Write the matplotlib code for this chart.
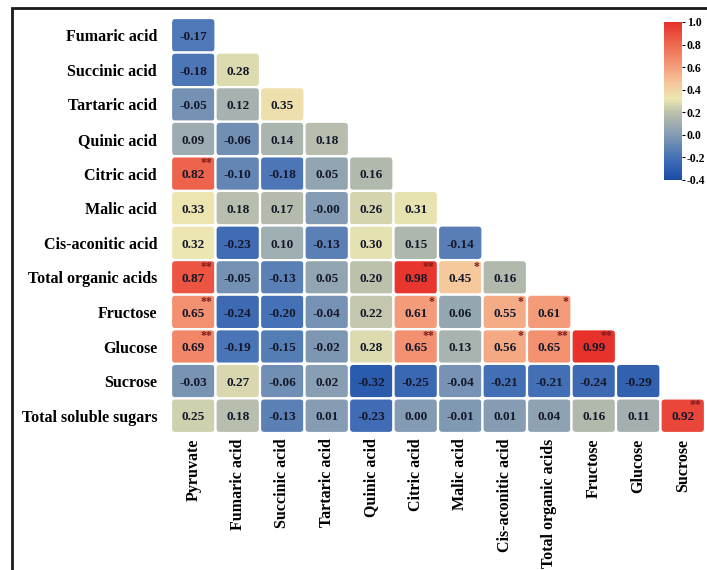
import numpy as np
import matplotlib.pyplot as plt
from matplotlib.colors import LinearSegmentedColormap, Normalize
from matplotlib.patches import FancyBboxPatch, Rectangle
from matplotlib.colorbar import ColorbarBase

plt.rcParams['font.family'] = ['Liberation Serif', 'DejaVu Serif']
plt.rcParams['font.weight'] = 'bold'

row_labels = ['Fumaric acid', 'Succinic acid', 'Tartaric acid', 'Quinic acid',
              'Citric acid', 'Malic acid', 'Cis-aconitic acid', 'Total organic acids',
              'Fructose', 'Glucose', 'Sucrose', 'Total soluble sugars']
col_labels = ['Pyruvate', 'Fumaric acid', 'Succinic acid', 'Tartaric acid',
              'Quinic acid', 'Citric acid', 'Malic acid', 'Cis-aconitic acid',
              'Total organic acids', 'Fructose', 'Glucose', 'Sucrose']

# lower triangle of the correlation matrix, one list per row
corr = [
    [-0.17],
    [-0.18, 0.28],
    [-0.05, 0.12, 0.35],
    [0.09, -0.06, 0.14, 0.18],
    [0.82, -0.10, -0.18, 0.05, 0.16],
    [0.33, 0.18, 0.17, -0.0, 0.26, 0.31],
    [0.32, -0.23, 0.10, -0.13, 0.30, 0.15, -0.14],
    [0.87, -0.05, -0.13, 0.05, 0.20, 0.98, 0.45, 0.16],
    [0.65, -0.24, -0.20, -0.04, 0.22, 0.61, 0.06, 0.55, 0.61],
    [0.69, -0.19, -0.15, -0.02, 0.28, 0.65, 0.13, 0.56, 0.65, 0.99],
    [-0.03, 0.27, -0.06, 0.02, -0.32, -0.25, -0.04, -0.21, -0.21, -0.24, -0.29],
    [0.25, 0.18, -0.13, 0.01, -0.23, 0.00, -0.01, 0.01, 0.04, 0.16, 0.11, 0.92],
]
signif = [
    [''],
    ['', ''],
    ['', '', ''],
    ['', '', '', ''],
    ['**', '', '', '', ''],
    ['', '', '', '', '', ''],
    ['', '', '', '', '', '', ''],
    ['**', '', '', '', '', '**', '*', ''],
    ['**', '', '', '', '', '*', '', '*', '*'],
    ['**', '', '', '', '', '**', '', '*', '**', '**'],
    ['', '', '', '', '', '', '', '', '', '', ''],
    ['', '', '', '', '', '', '', '', '', '', '', '**'],
]

vmin, vmax = -0.4, 1.0
stops = [(-0.4, '#1a4ca8'), (-0.2, '#4672b6'), (0.0, '#839bb3'),
         (0.2, '#bcc1ac'), (0.32, '#ece7b2'), (0.45, '#f5c99c'),
         (0.6, '#f49e7c'), (0.8, '#ee6a50'), (1.0, '#e7302a')]
cmap = LinearSegmentedColormap.from_list(
    'corr', [((v - vmin) / (vmax - vmin), c) for v, c in stops])
norm = Normalize(vmin, vmax)

W, H = 707, 570
fig = plt.figure(figsize=(W / 100, H / 100), dpi=100)

# outer frame around the panel
fig.patches.append(Rectangle((12 / W, -0.1), 1.2, 1 - 8 / H + 0.1,
                             transform=fig.transFigure, fill=False,
                             edgecolor='#1a1a1a', linewidth=2))

ax = fig.add_axes([171 / W, 1 - 433 / H, 534 / W, 415 / H])
n = len(row_labels)
ax.set_xlim(0, n)
ax.set_ylim(n, 0)
cell_w, cell_h = 534 / n, 415 / n

for i, row in enumerate(corr):
    for j, v in enumerate(row):
        box = FancyBboxPatch((j, i), 1, 1,
                             boxstyle='round,pad=0,rounding_size=0.1',
                             mutation_aspect=cell_w / cell_h,
                             facecolor=cmap(norm(v)), edgecolor='white',
                             linewidth=1.6)
        ax.add_patch(box)
        ax.text(j + 0.5, i + 0.55, f'{v:.2f}', ha='center', va='center',
                fontsize=9.5, fontweight='bold', color='#15182a')
        if signif[i][j]:
            ax.text(j + 0.92, i + 0.2, signif[i][j], ha='right', va='center',
                    fontsize=8.5, color='#7a1c1c')

ax.set_xticks(np.arange(n) + 0.5)
ax.set_xticklabels(col_labels, rotation=90, fontsize=11.5, fontweight='bold')
ax.set_yticks(np.arange(n) + 0.5)
ax.set_yticklabels(row_labels, fontsize=11.5, fontweight='bold')
ax.tick_params(length=0, pad=4)
ax.tick_params(axis='y', pad=10)
for s in ax.spines.values():
    s.set_visible(False)

cax = fig.add_axes([664 / W, 1 - 180 / H, 18 / W, 158 / H])
cb = ColorbarBase(cax, cmap=cmap, norm=norm, ticks=np.arange(-0.4, 1.01, 0.2))
cb.ax.set_yticklabels([f'{t:.1f}' for t in np.arange(-0.4, 1.01, 0.2)],
                      fontsize=8.5, fontweight='bold')
cb.outline.set_visible(False)
cb.ax.tick_params(length=2.5, width=0.8, pad=1)

fig.savefig('out.png', dpi=100)
